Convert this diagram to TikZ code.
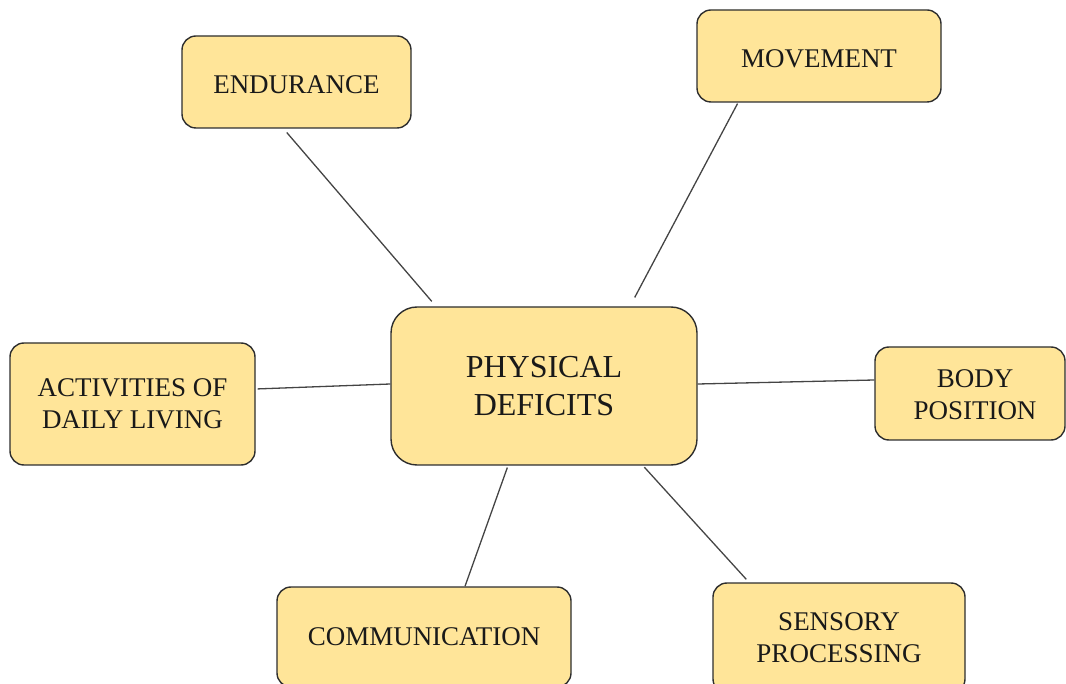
\documentclass[tikz,border=0pt]{standalone}
\usepackage{fontspec}
\setmainfont{Liberation Serif}
\definecolor{boxfill}{HTML}{FFE599}
\definecolor{boxline}{HTML}{2E2E2E}
\definecolor{linkline}{HTML}{444444}
\begin{document}
\begin{tikzpicture}[x=1pt,y=-1pt,
  topic/.style={draw=boxline, line width=1.4pt, fill=boxfill, rounded corners=14pt,
    align=center, inner sep=0pt, text=black!90,
    font=\fontsize{27}{32}\selectfont},
  oneline/.style={text height=23pt, text depth=0pt},
  caption/.style={align=center, inner sep=0pt, text=black!90,
    font=\fontsize{27}{32}\selectfont},
  hub/.style={topic, rounded corners=26pt, font=\fontsize{32}{37.5}\selectfont},
  link/.style={draw=linkline, line width=1.3pt}]
\useasboundingbox (0,0) rectangle (1066,684);
\clip (0,0) rectangle (1066,684);

% central topic
\node[hub, minimum width=306pt, minimum height=158pt] (phys) at (544,386) {PHYSICAL\\DEFICITS};

% surrounding topics
\node[topic, oneline, minimum width=229pt, minimum height=92pt] (endu) at (296.5,82) {ENDURANCE};
\node[topic, oneline, minimum width=244pt, minimum height=92pt] (move) at (819,56) {MOVEMENT};
\node[topic, minimum width=245pt, minimum height=122pt] (adl) at (132.5,404) {ACTIVITIES OF\\DAILY LIVING};
\node[topic, minimum width=190pt, minimum height=93pt] (body) at (970,393.5) {};
\node[caption] (bodytext) at (975,395) {BODY\\POSITION};
\node[topic, minimum width=294pt, minimum height=100pt] (comm) at (424,637) {COMMUNICATION};
\node[topic, minimum width=252pt, minimum height=110pt] (sens) at (839,638) {SENSORY\\PROCESSING};

% connectors
\draw[link, shorten <=5pt, shorten >=6.5pt] ([xshift=-13pt]endu.south) -- ([xshift=-108pt]phys.north);
\draw[link, shorten <=1pt, shorten >=10pt] ([xshift=-81pt]move.south) -- ([xshift=86pt]phys.north);
\draw[link, shorten <=2pt] ([yshift=15pt]adl.east) -- ([yshift=2pt]phys.west);
\draw[link] ([yshift=2pt]phys.east) -- ([yshift=13.5pt]body.west);
\draw[link, shorten <=2pt] ([xshift=-36pt]phys.south) -- ([xshift=41pt]comm.north);
\draw[link, shorten <=2pt, shorten >=4pt] ([xshift=99pt]phys.south) -- ([xshift=-90pt]sens.north);
\end{tikzpicture}
\end{document}
